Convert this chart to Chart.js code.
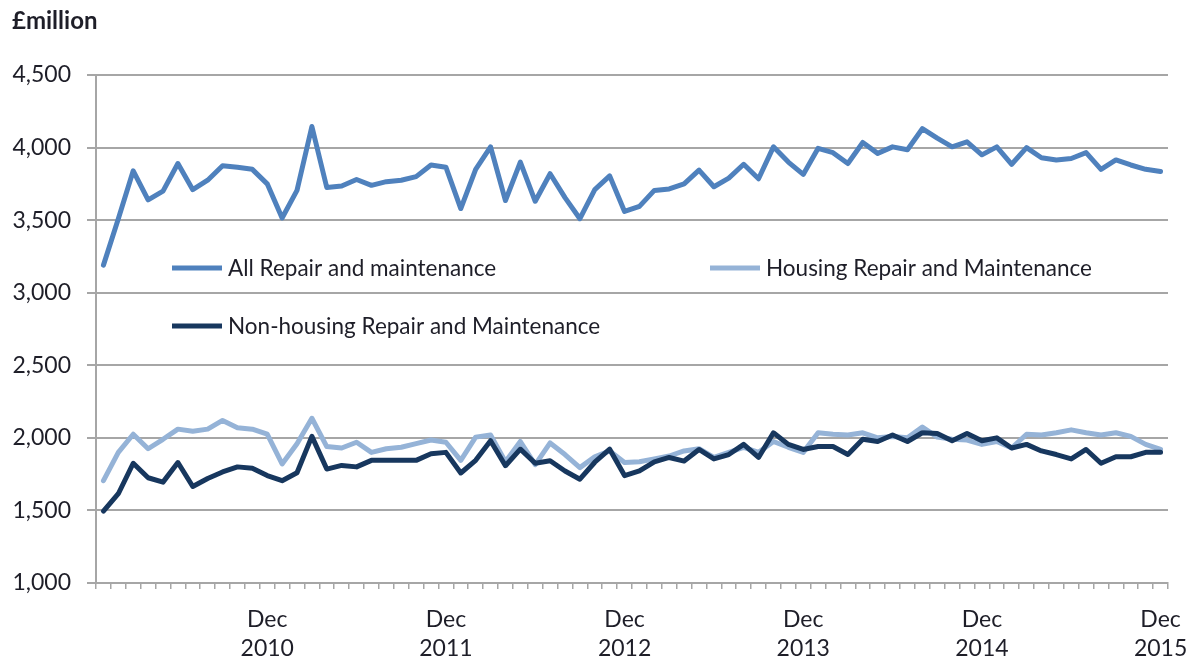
<!DOCTYPE html>
<html><head><meta charset="utf-8">
<script src="https://cdn.jsdelivr.net/npm/chart.js@4"></script>
<style>html,body{margin:0;padding:0;background:#fff}#wrap{width:1190px;height:661px;position:relative}canvas{display:block}</style>
</head><body><div id="wrap"><canvas id="c" width="1190" height="661"></canvas></div>
<script>
const years = ['2010','2011','2012','2013','2014','2015'];
const monthNames = ['Jan','Feb','Mar','Apr','May','Jun','Jul','Aug','Sep','Oct','Nov','Dec'];
const categories = [];
years.forEach(y => monthNames.forEach(m => categories.push(m + ' ' + y)));

const allRepair = [
  3190,3510,3840,3640,3700,3890,3710,3775,3875,3865,3850,3750,
  3515,3705,4145,3725,3735,3780,3740,3765,3775,3800,3880,3865,
  3580,3850,4005,3635,3900,3630,3820,3655,3510,3710,3805,3560,
  3595,3705,3715,3750,3845,3730,3790,3885,3785,4005,3900,3815,
  3995,3965,3890,4035,3960,4005,3985,4130,4065,4005,4040,3950,
  4005,3885,4000,3930,3915,3925,3965,3850,3915,3880,3850,3835
];
const housing = [
  1705,1900,2025,1925,1990,2060,2045,2060,2120,2070,2060,2025,
  1820,1960,2135,1940,1930,1970,1900,1925,1935,1960,1985,1970,
  1845,2005,2020,1835,1975,1815,1965,1885,1795,1870,1910,1830,
  1835,1855,1875,1910,1925,1865,1900,1935,1900,1975,1935,1900,
  2035,2025,2020,2035,2000,2010,2000,2075,2005,1990,1985,1955,
  1975,1930,2025,2020,2035,2055,2035,2020,2035,2010,1955,1920
];
const nonHousing = [
  1495,1615,1825,1725,1695,1830,1665,1720,1765,1800,1790,1740,
  1705,1760,2010,1785,1810,1800,1845,1845,1845,1845,1890,1900,
  1758,1845,1980,1808,1922,1825,1842,1772,1715,1832,1922,1740,
  1772,1835,1865,1840,1920,1855,1885,1955,1865,2035,1955,1920,
  1940,1940,1885,1990,1975,2020,1975,2035,2030,1980,2030,1980,
  2000,1930,1955,1910,1885,1855,1920,1825,1870,1870,1900,1900
];
const seriesNames = ['All Repair and maintenance','Housing Repair and Maintenance','Non-housing Repair and Maintenance'];
const unitLabel = '£million';
const yMin = 1000, yMax = 4500, yStep = 500;

const FONT = 'Lato, "Liberation Sans", sans-serif';
const TXT = '#1e1e28';
const colors = ['#4f81bd', '#95b3d7', '#17375e'];

const overlay = {
  id: 'overlay',
  afterDraw(chart) {
    const {ctx, chartArea: a} = chart;
    ctx.save();
    ctx.fillStyle = TXT;
    ctx.font = 'bold 24px ' + FONT;
    ctx.textBaseline = 'middle';
    ctx.textAlign = 'left';
    ctx.fillText(unitLabel, 12, 21);
    ctx.font = '22.5px ' + FONT;
    const pos = [[a.left + 76, a.top + 193], [a.left + 614, a.top + 193], [a.left + 76, a.top + 251]];
    pos.forEach((p, i) => {
      ctx.strokeStyle = colors[i];
      ctx.lineWidth = 5;
      ctx.lineCap = 'butt';
      ctx.beginPath(); ctx.moveTo(p[0], p[1]); ctx.lineTo(p[0] + 50, p[1]); ctx.stroke();
      ctx.fillStyle = TXT;
      ctx.fillText(seriesNames[i], p[0] + 56, p[1] + 1);
    });
    ctx.restore();
  }
};

new Chart(document.getElementById('c'), {
  type: 'line',
  data: {
    labels: categories,
    datasets: [
      {label: seriesNames[0], data: allRepair, borderColor: colors[0], order: 2},
      {label: seriesNames[1], data: housing, borderColor: colors[1], order: 1},
      {label: seriesNames[2], data: nonHousing, borderColor: colors[2], order: 0}
    ].map(d => Object.assign(d, {borderWidth: 5, pointRadius: 0, tension: 0, fill: false, borderJoinStyle: 'round', borderCapStyle: 'round'}))
  },
  options: {
    responsive: false,
    animation: false,
    devicePixelRatio: 1,
    layout: {padding: {left: 0, top: 75, right: 22, bottom: 0}},
    plugins: {legend: {display: false}, tooltip: {enabled: false}, title: {display: false}},
    scales: {
      x: {
        type: 'category',
        offset: true,
        grid: {offset: true, drawOnChartArea: false, drawTicks: true, tickLength: 6, color: '#a6a6a6', lineWidth: 1.5},
        border: {display: true, color: '#a6a6a6', width: 2},
        ticks: {
          autoSkip: false, maxRotation: 0, minRotation: 0, padding: 17,
          color: TXT, font: {family: FONT, size: 23, lineHeight: 1.22},
          callback: function(v, i) { return monthNames[i % 12] === 'Dec' ? ['Dec', years[Math.floor(i / 12)]] : ''; }
        },
        afterFit(s) { s.height = 78; s.paddingRight = 0; }
      },
      y: {
        min: yMin, max: yMax,
        grid: {color: '#a6a6a6', lineWidth: 2, tickLength: 9, drawTicks: true},
        border: {display: true, color: '#a6a6a6', width: 2},
        ticks: {stepSize: yStep, padding: 16, color: TXT, font: {family: FONT, size: 23},
          callback: v => v.toLocaleString('en-GB')},
        afterFit(s) { s.width = 96; }
      }
    }
  },
  plugins: [overlay]
});
</script>
</body></html>
